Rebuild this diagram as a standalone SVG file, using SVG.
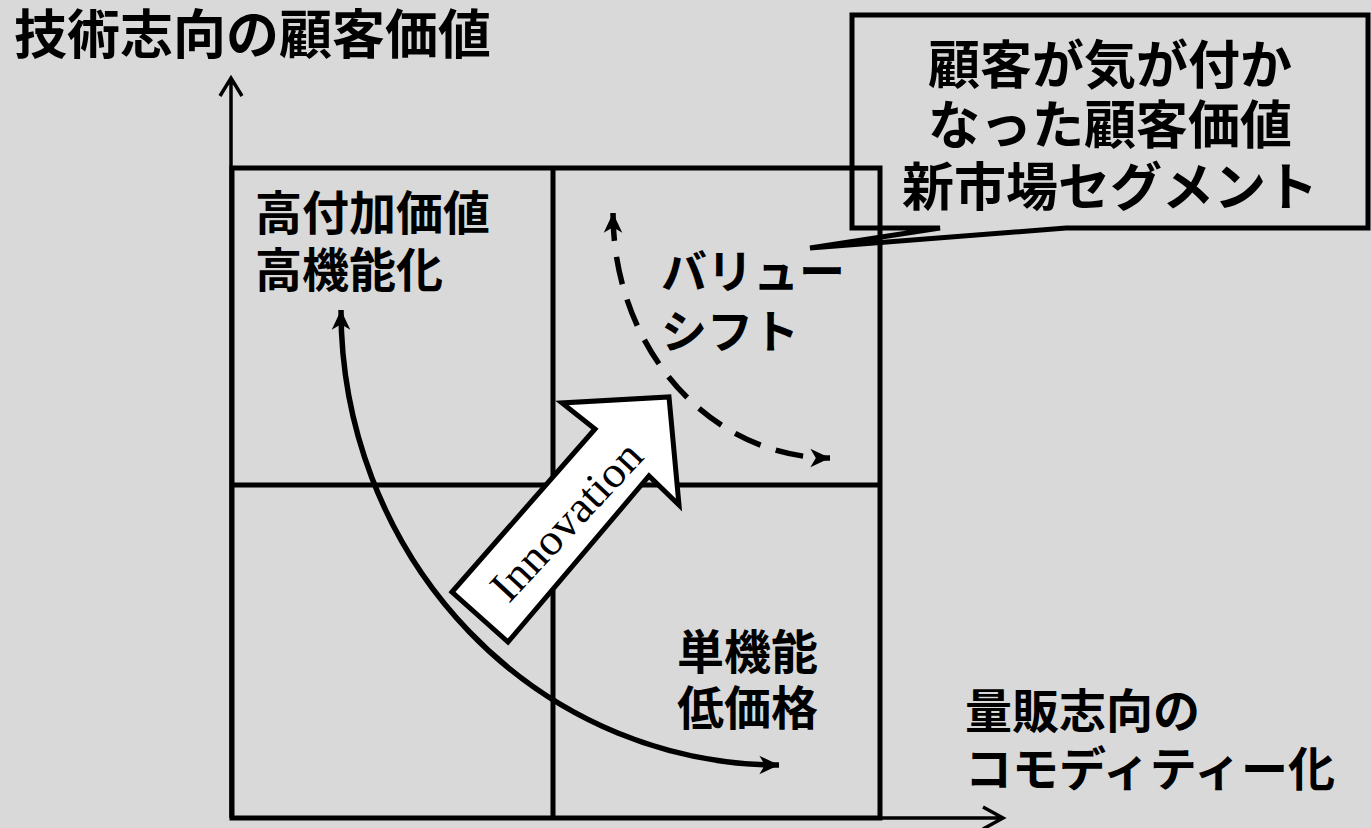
<svg xmlns="http://www.w3.org/2000/svg" width="1371" height="828" viewBox="0 0 1371 828">
<style>
.jp{font-family:"Liberation Serif","Noto Sans CJK JP",serif;font-weight:700;fill:#000}
.grid{stroke:#000;stroke-width:5;fill:none}
.axis{stroke:#000;stroke-width:3.5;fill:none}
.curve{stroke:#000;stroke-width:5.5;fill:none}
</style>
<defs>
<marker id="ah" markerUnits="userSpaceOnUse" markerWidth="24" markerHeight="24" viewBox="-20 -10 22 20" refX="0" refY="0" orient="auto-start-reverse">
<path d="M0,0 L-18,-8.5 L-13,0 L-18,8.5 Z" fill="#000"/>
</marker>
</defs>
<rect width="1371" height="828" fill="#d9d9d9"/>
<g id="axes">
<path class="axis" d="M231,818 V79 M220,96 L231,78 L242,96"/>
<path class="axis" d="M231,818 H1002 M983,807 L1003,818 L983,829"/>
</g>
<g id="grid">
<rect class="grid" x="232" y="168" width="648" height="650"/>
<line class="grid" x1="553" y1="168" x2="553" y2="818"/>
<line class="grid" x1="232" y1="485" x2="880" y2="485"/>
</g>
<g id="connectors">
<path class="curve" d="M341,310 A438 455 0 0 0 779,765" marker-start="url(#ah)" marker-end="url(#ah)"/>
<path class="curve" d="M613,213 A217 245 0 0 0 830,458" stroke-dasharray="28 16" marker-start="url(#ah)" marker-end="url(#ah)"/>
</g>
<g id="innovation">
<polygon points="452,592 595,429 562,403 669,397 679,505 649,476 508,642" fill="#fff" stroke="#000" stroke-width="5" stroke-linejoin="miter"/>
<text transform="translate(577 531) rotate(-47)" x="0" y="0" text-anchor="middle" font-family="Liberation Serif, serif" font-size="44" textLength="200" lengthAdjust="spacingAndGlyphs">Innovation</text>
</g>
<g id="title">
<text class="jp" x="14" y="54" font-size="53">技術志向の顧客価値</text>
</g>
<g id="high-value">
<text class="jp" x="255" y="230" font-size="47">高付加価値</text>
<text class="jp" x="255" y="287" font-size="47">高機能化</text>
</g>
<g id="value-shift">
<text class="jp" x="661" y="288" font-size="46">バリュー</text>
<text class="jp" x="661" y="348" font-size="46">シフト</text>
</g>
<g id="low-price">
<text class="jp" x="677" y="669" font-size="47">単機能</text>
<text class="jp" x="677" y="725" font-size="47">低価格</text>
</g>
<g id="commodity">
<text class="jp" x="965" y="728" font-size="47">量販志向の</text>
<text class="jp" x="965" y="786" font-size="47">コモディティー化</text>
</g>
<g id="callout">
<path d="M852,15 H1368 V228 H1066 L810,248 L940,228 H852 Z" fill="none" stroke="#000" stroke-width="5" stroke-linejoin="miter"/>
<text class="jp" x="1110" y="84" font-size="52" text-anchor="middle">顧客が気が付か</text>
<text class="jp" x="1110" y="144" font-size="52" text-anchor="middle">なった顧客価値</text>
<text class="jp" x="1110" y="206" font-size="52" text-anchor="middle">新市場セグメント</text>
</g>
</svg>
